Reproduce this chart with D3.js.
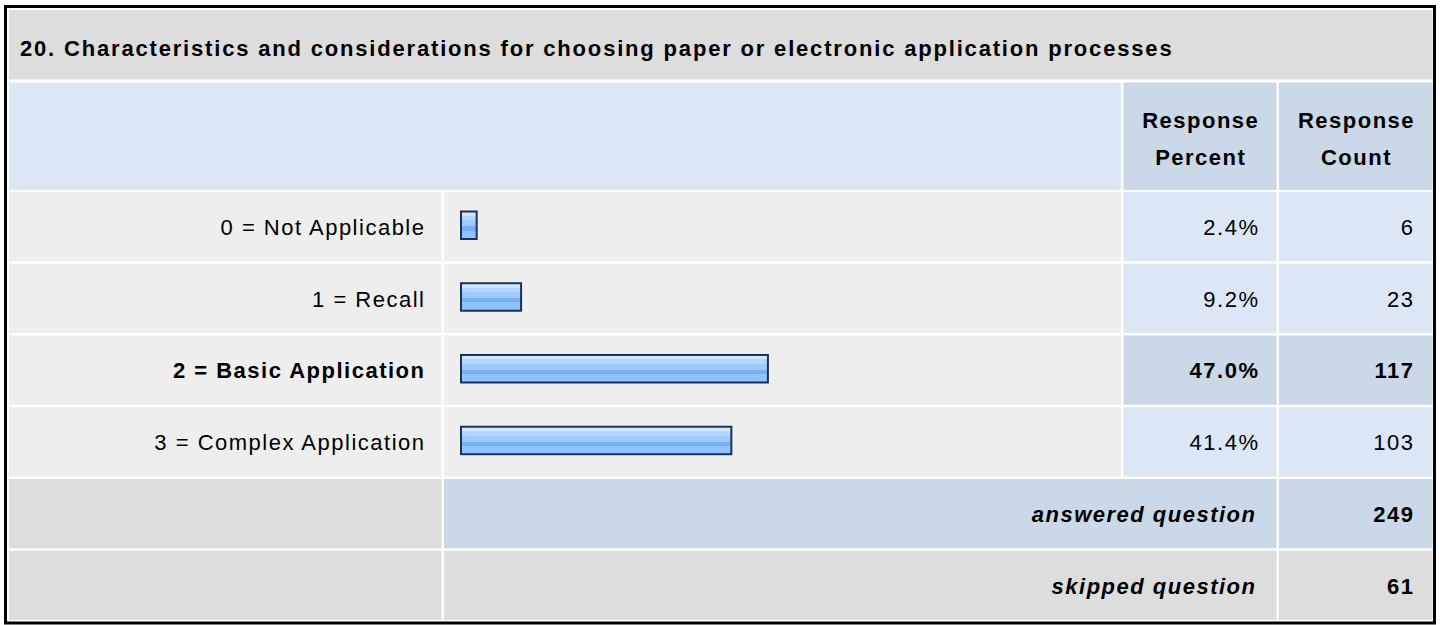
<!DOCTYPE html>
<html>
<head>
<meta charset="UTF-8">
<title>Question 20 results</title>
<script src="https://d3js.org/d3.v7.min.js"></script>
<style>
  body { margin: 0; background: #fff; }
  text { font-family: "Liberation Sans", Arial, sans-serif; fill: #000; }
</style>
</head>
<body>
<div id="chart"></div>
<script>
var title = "20. Characteristics and considerations for choosing paper or electronic application processes";
var categories = ["0 = Not Applicable", "1 = Recall", "2 = Basic Application", "3 = Complex Application"];
var percents = [2.4, 9.2, 47.0, 41.4];
var counts = [6, 23, 117, 103];
var headerLabels = [["Response", "Percent"], ["Response", "Count"]];
var summaryLabels = ["answered question", "skipped question"];
var summaryValues = [249, 61];

var width = 1440, height = 625;

var svg = d3.select("#chart").append("svg")
    .attr("width", width)
    .attr("height", height);

// colours
var cGray = "#dddddd", cLight = "#eeeeee", cBlue = "#dce7f5", cBlueDark = "#cbd8e7";

// column edges
var cols = {
  label: [9, 441.5],
  bar:   [444, 1121],
  pct:   [1123.5, 1276.5],
  count: [1279, 1432.5]
};

var fs = 22, ls = 1.5;

// rows: the four categories then the two summary rows
var rowKeys = categories.concat(summaryLabels);
var y = d3.scaleBand()
    .domain(rowKeys)
    .range([192, 620])
    .paddingInner(0.034);

var x = d3.scaleLinear()
    .domain([0, 100])
    .range([461, 1114]);

var maxIdx = percents.indexOf(d3.max(percents));

// outer frame
svg.append("rect")
    .attr("x", 5.5).attr("y", 6.5)
    .attr("width", 1429).attr("height", 616.5)
    .attr("fill", "#fff")
    .attr("stroke", "#000")
    .attr("stroke-width", 3);

var cells = svg.append("g");
function cell(x0, x1, y0, h, fill) {
  cells.append("rect")
      .attr("x", x0).attr("y", y0)
      .attr("width", x1 - x0).attr("height", h)
      .attr("fill", fill);
}

// title row
cell(9, 1432.5, 10, 69.5, cGray);
svg.append("text")
    .attr("x", 20).attr("y", 56)
    .attr("font-size", fs)
    .attr("font-weight", "bold")
    .attr("letter-spacing", 1.82)
    .text(title);

// header row
cell(cols.label[0], cols.bar[1], 82.5, 107.5, cBlue);
cell(cols.pct[0], cols.pct[1], 82.5, 107.5, cBlueDark);
cell(cols.count[0], cols.count[1], 82.5, 107.5, cBlueDark);
[cols.pct, cols.count].forEach(function(c, i) {
  var t = svg.append("text")
      .attr("text-anchor", "middle")
      .attr("font-size", fs)
      .attr("font-weight", "bold")
      .attr("letter-spacing", ls);
  headerLabels[i].forEach(function(s, j) {
    t.append("tspan")
        .attr("x", (c[0] + c[1]) / 2 + ls / 2)
        .attr("y", 128 + j * 37)
        .text(s);
  });
});

// bar gradient
var defs = svg.append("defs");
var grad = defs.append("linearGradient")
    .attr("id", "barGrad")
    .attr("x1", 0).attr("y1", 0).attr("x2", 0).attr("y2", 1);
[[0, "#cfe6ff"], [0.16, "#cfe6ff"], [0.16, "#b2d7ff"], [0.32, "#b2d7ff"],
 [0.32, "#9dcbff"], [0.54, "#9dcbff"], [0.54, "#78aff0"], [0.7, "#78aff0"],
 [0.7, "#8fc2ff"], [1, "#8fc2ff"]].forEach(function(s) {
  grad.append("stop").attr("offset", s[0]).attr("stop-color", s[1]);
});

// category row backgrounds
categories.forEach(function(d, i) {
  var top = y(d), h = y.bandwidth();
  var hi = i === maxIdx;
  cell(cols.label[0], cols.label[1], top, h, cLight);
  cell(cols.bar[0], cols.bar[1], top, h, cLight);
  cell(cols.pct[0], cols.pct[1], top, h, hi ? cBlueDark : cBlue);
  cell(cols.count[0], cols.count[1], top, h, hi ? cBlueDark : cBlue);
});

// summary row backgrounds
summaryLabels.forEach(function(lbl, i) {
  var top = y(lbl), h = y.bandwidth();
  var fill = i === 0 ? cBlueDark : cGray;
  cell(cols.label[0], cols.label[1], top, h, cGray);
  cell(cols.bar[0], cols.pct[1], top, h, fill);
  cell(cols.count[0], cols.count[1], top, h, fill);
});

var rows = svg.selectAll("g.row")
    .data(categories)
    .enter().append("g")
    .attr("class", "row");

rows.append("rect")
    .attr("x", x(0))
    .attr("y", function(d) { return y(d) + 19.5; })
    .attr("width", function(d, i) { return x(percents[i]) - x(0); })
    .attr("height", 27.5)
    .attr("fill", "url(#barGrad)")
    .attr("stroke", "#1c3154")
    .attr("stroke-width", 2);

function rowText(sel, xr, fn) {
  sel.append("text")
      .attr("x", xr + ls)
      .attr("y", function(d) { return y(d) + 43; })
      .attr("text-anchor", "end")
      .attr("font-size", fs)
      .attr("letter-spacing", ls)
      .attr("font-weight", function(d, i) { return i === maxIdx ? "bold" : "normal"; })
      .text(fn);
}
rowText(rows, 424, function(d) { return d; });
rowText(rows, 1258, function(d, i) { return percents[i].toFixed(1) + "%"; });
rowText(rows, 1413, function(d, i) { return counts[i]; });

// summary labels and values
summaryLabels.forEach(function(lbl, i) {
  var top = y(lbl);
  svg.append("text")
      .attr("x", 1255 + ls)
      .attr("y", top + 43)
      .attr("text-anchor", "end")
      .attr("font-size", fs)
      .attr("font-weight", "bold")
      .attr("font-style", "italic")
      .attr("letter-spacing", ls)
      .text(lbl);
  svg.append("text")
      .attr("x", 1413 + ls)
      .attr("y", top + 43)
      .attr("text-anchor", "end")
      .attr("font-size", fs)
      .attr("font-weight", "bold")
      .attr("letter-spacing", ls)
      .text(summaryValues[i]);
});
</script>
</body>
</html>
